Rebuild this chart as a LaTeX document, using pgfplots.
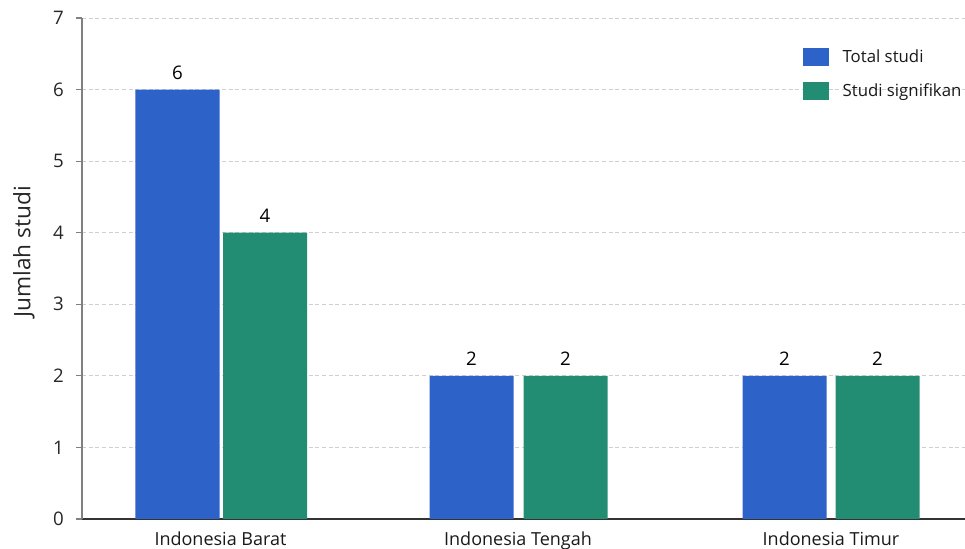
\documentclass[border=0pt]{standalone}
\usepackage{pgfplots}
\pgfplotsset{compat=1.18}
\usepackage{fontspec}
\setmainfont{Open Sans}
\definecolor{cblue}{HTML}{2D62C8}
\definecolor{cgreen}{HTML}{238D74}
\definecolor{gridc}{HTML}{D0D0D0}
\begin{document}
\begin{tikzpicture}
\begin{axis}[
  scale only axis,
  width=662.25pt, height=375.75pt,
  xmin=82, xmax=965, ymin=0, ymax=7,
  axis x line*=bottom, axis y line*=left,
  x axis line style={black!80, line width=0.8pt},
  y axis line style={black!50, line width=0.8pt},
  tick align=outside,
  major tick length=4.5pt,
  xtick={220.5,518,831},
  xticklabels={Indonesia Barat, Indonesia Tengah, Indonesia Timur},
  xtick style={draw=none},
  ytick={0,1,...,7},
  ytick style={black!50, line width=0.8pt},
  /pgf/number format/assume math mode=true,
  yticklabel style={font=\fontsize{14}{16}\selectfont, text=black!85, inner sep=0pt, xshift=-9pt},
  xticklabel style={font=\fontsize{13.5}{16}\selectfont, text=black!90, inner sep=0pt, yshift=-5.25pt},
  ymajorgrids,
  grid style={gridc, line width=0.6pt, dash pattern=on 3pt off 2pt},
  ylabel={Jumlah studi},
  ylabel style={at={(axis description cs:-0.0657,0.533)}, anchor=center, font=\fontsize{17}{20}\selectfont, text=black!85},
  legend style={at={(axis cs:803,6.59)}, anchor=north west, draw=none, fill=none,
    font=\fontsize{12.6}{15}\selectfont, text=black!90, row sep=11.5pt, inner sep=0pt,
    nodes={inner sep=1pt}},
  legend cell align=left,
  legend image code/.code={\fill[#1] (0pt,-7pt) rectangle (19.5pt,7pt);},
  nodes near coords style={font=\fontsize{14}{16}\selectfont, text=black, inner sep=0pt, yshift=7.5pt},
]
\addplot[ybar, bar shift=0pt, bar width=84, fill=cblue, draw=none, nodes near coords]
  coordinates {(177.5,6) (471.5,2) (784.5,2)};
\addlegendentry{\hspace*{9pt}Total studi}
\addplot[ybar, bar shift=0pt, bar width=84, fill=cgreen, draw=none, nodes near coords]
  coordinates {(265,4) (565.5,2) (877.5,2)};
\addlegendentry{\hspace*{9pt}Studi signifikan}
\coordinate (sw) at (rel axis cs:0,0);
\coordinate (ne) at (rel axis cs:1,1);
\end{axis}
\pgfresetboundingbox
\path[use as bounding box] ([xshift=-61.5pt,yshift=-22.5pt]sw) rectangle ([yshift=13.5pt]ne);
\end{tikzpicture}
\end{document}
